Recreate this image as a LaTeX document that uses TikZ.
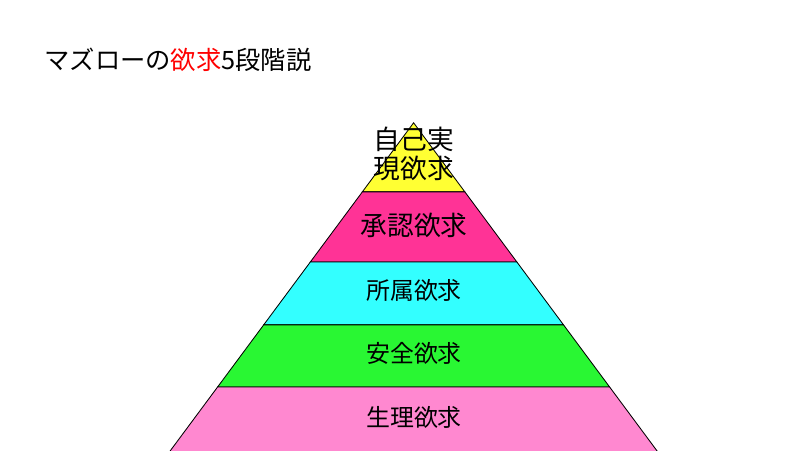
\documentclass[tikz,border=0pt]{standalone}
\usepackage{fontspec}
\newfontfamily\jp{Noto Sans CJK JP}
\usetikzlibrary{calc}
\definecolor{lvSelf}{RGB}{255,255,51}
\definecolor{lvEsteem}{RGB}{255,51,150}
\definecolor{lvBelong}{RGB}{51,255,255}
\definecolor{lvSafety}{RGB}{41,247,51}
\definecolor{lvBody}{RGB}{255,136,208}

\begin{document}
\begin{tikzpicture}[line width=0.6pt, font=\jp]
  \useasboundingbox (0,0) rectangle (20,11.25);
  \coordinate (T) at (10.34,8.18);
  \coordinate (L) at (3.90,-0.5); % base runs off the page
  \coordinate (R) at (16.78,-0.5);
  % band edges along both sides
  \foreach \n/\t in {1/0.199,2/0.401,3/0.582,4/0.761}{
    \coordinate (L\n) at ($(T)!\t!(L)$);
    \coordinate (R\n) at ($(T)!\t!(R)$);
  }
  \filldraw[fill=lvSelf] (T)--(L1)--(R1)--cycle;
  \filldraw[fill=lvEsteem] (L1)--(L2)--(R2)--(R1)--cycle;
  \filldraw[fill=lvBelong] (L2)--(L3)--(R3)--(R2)--cycle;
  \filldraw[fill=lvSafety] (L3)--(L4)--(R4)--(R3)--cycle;
  \filldraw[fill=lvBody] (L4)--(L)--(R)--(R4)--cycle;
  \node[align=center, font=\jp\fontsize{19}{20.5}\selectfont] (self) at (10.35,7.40) {自己実\\現欲求};
  \node[font=\jp\fontsize{19}{20}\selectfont] (esteem) at (10.35,5.62) {承認欲求};
  \node[font=\jp\fontsize{17}{18}\selectfont] (belong) at (10.35,4.0) {所属欲求};
  \node[font=\jp\fontsize{17}{18}\selectfont] (safety) at (10.35,2.42) {安全欲求};
  \node[font=\jp\fontsize{17}{18}\selectfont] (body) at (10.35,0.82) {生理欲求};
  \node[anchor=west, inner sep=0pt, font=\jp\fontsize{18}{20}\selectfont] (title) at (1.1,9.75)
        {マズローの\textcolor{red}{欲求}5段階説};
\end{tikzpicture}
\end{document}
